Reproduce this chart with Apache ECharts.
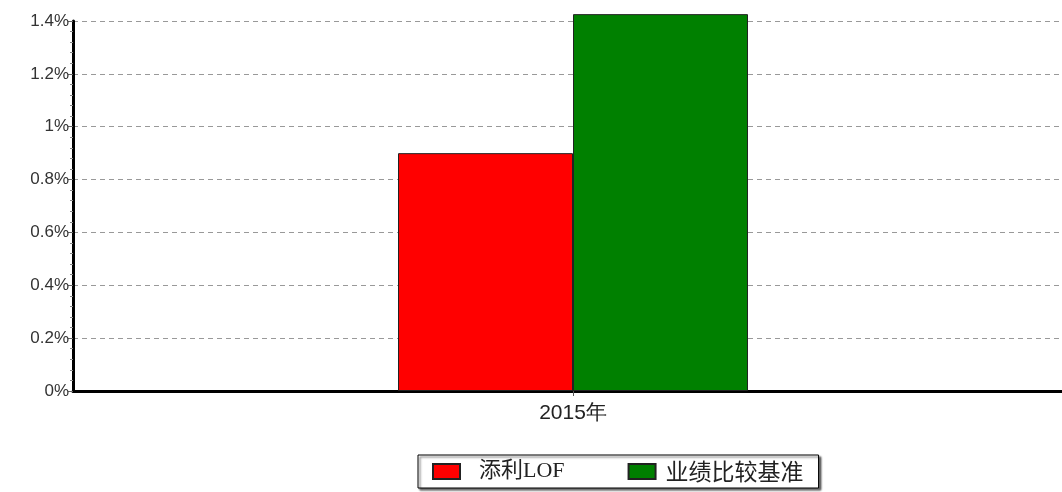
<!DOCTYPE html>
<html><head><meta charset="utf-8">
<script src="https://cdn.jsdelivr.net/npm/echarts@6/dist/echarts.min.js"></script>
<style>html,body{margin:0;padding:0;background:#fff;overflow:hidden;width:1062px;height:492px}#c{width:1073px;height:492px}</style>
</head><body><div id="c"></div>
<script>
const categories = ['2015年'];
const seriesNames = ['添利LOF', '业绩比较基准'];
const fundValues = [0.90];
const benchValues = [1.426];
const yTicks = [0, 0.2, 0.4, 0.6, 0.8, 1, 1.2, 1.4];

const chart = echarts.init(document.getElementById('c'));
chart.setOption({
  animation: false,
  grid: {left: 73, right: 0, top: 21, bottom: 101, containLabel: false},
  legend: {
    data: seriesNames, left: 418, top: 455, padding: [5, 15, 5, 14],
    itemGap: 63, itemWidth: 27, itemHeight: 15,
    borderColor: '#000', borderWidth: 1, backgroundColor: '#fff',
    shadowColor: 'rgba(0,0,0,0.6)', shadowOffsetX: 2, shadowOffsetY: 2, shadowBlur: 2,
    textStyle: {fontSize: 22, color: '#222', fontFamily: "'Liberation Serif', 'Noto Sans CJK SC'",
      rich: {
        a: {fontSize: 22, color: '#222', padding: [0, 0, 0, 14], fontFamily: "'Liberation Serif', 'Noto Sans CJK SC'"},
        b: {fontSize: 23, color: '#222', padding: [0, 0, 0, 5], fontFamily: "'Noto Sans CJK SC'"}
      }},
    formatter: name => name === seriesNames[0] ? '{a|' + name + '}' : '{b|' + name + '}',
    icon: 'rect'
  },
  xAxis: {
    type: 'category', data: categories,
    axisLine: {lineStyle: {color: '#000', width: 3}},
    axisTick: {show: true, alignWithLabel: true, length: 5, lineStyle: {color: '#555'}},
    axisLabel: {fontSize: 21, color: '#222', margin: 12, fontFamily: 'Arial'}
  },
  yAxis: {
    type: 'value', min: 0, max: 1.4, interval: 0.2,
    axisLine: {show: true, lineStyle: {color: '#000', width: 3}},
    axisTick: {show: true, length: 5, lineStyle: {color: '#666'}},
    minorTick: {show: true, splitNumber: 5, length: 3, lineStyle: {color: '#888'}},
    splitLine: {lineStyle: {color: '#999', type: [5, 4], width: 1}},
    axisLabel: {fontSize: 17, color: '#333', margin: 4, fontFamily: 'Arial',
      formatter: v => (Math.round(v * 10) / 10) + '%'}
  },
  series: [
    {name: seriesNames[0], type: 'bar', data: fundValues, barWidth: '17.5%', barGap: '0%', clip: false,
     itemStyle: {color: '#ff0000', borderColor: '#222', borderWidth: 1}},
    {name: seriesNames[1], type: 'bar', data: benchValues, barWidth: '17.5%', barGap: '0%', clip: false,
     itemStyle: {color: '#008000', borderColor: '#222', borderWidth: 1}}
  ]
});
</script></body></html>
